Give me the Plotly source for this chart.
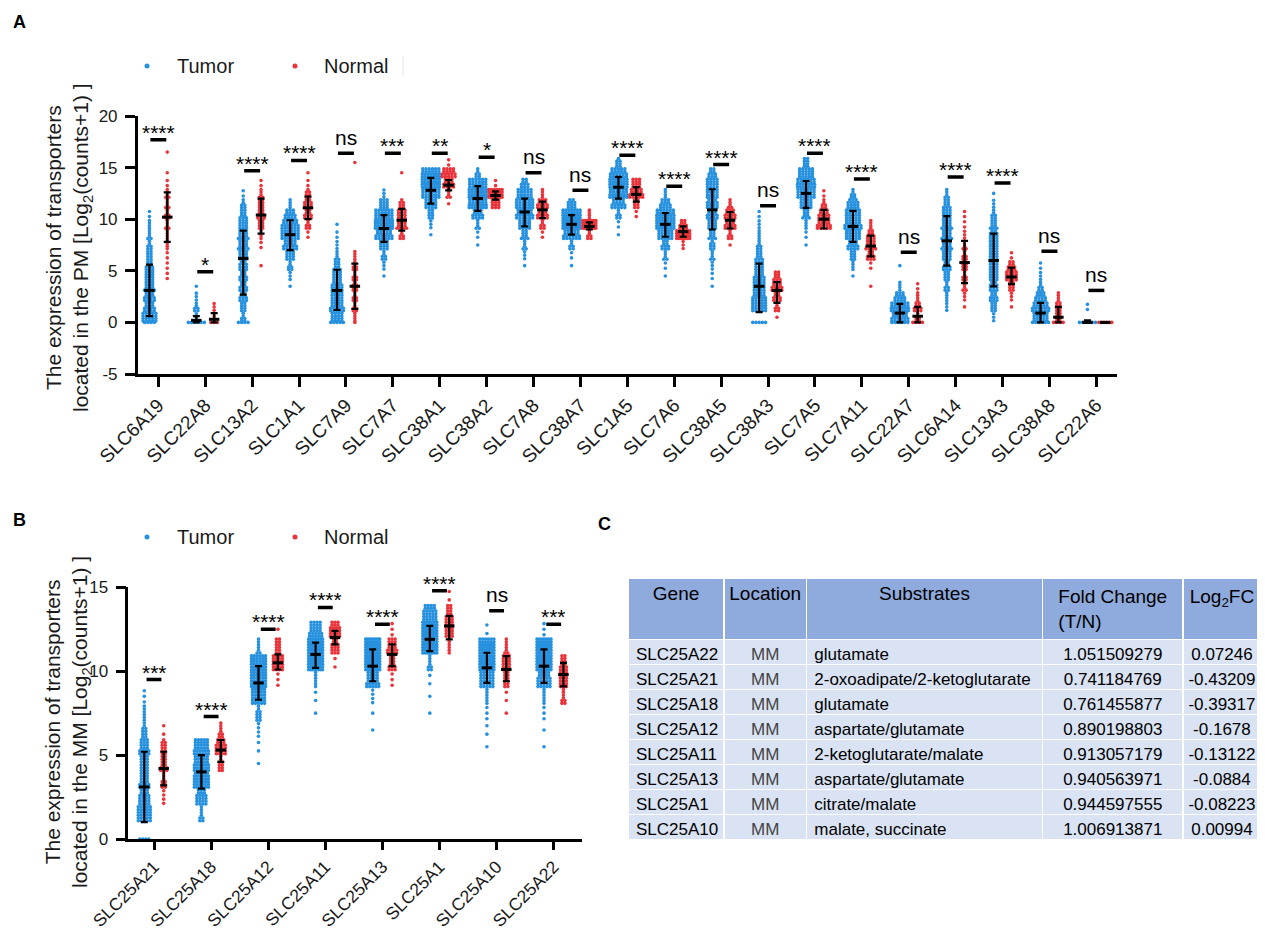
import plotly.graph_objects as go

FONT = "Arial, 'Liberation Sans', sans-serif"
BLUE = "#2691DE"
RED = "#E8343A"
W, H = 1265, 930          # design (screen) size
OFF = 8                   # page body margin added by the browser
FW, FH = W - OFF, H - OFF  # actual figure size


def X(px):
    return (px - OFF) / FW


def Y(py):
    return 1 - (py - OFF) / FH


# ---------------- Panel A data ----------------
genes_A = ["SLC6A19", "SLC22A8", "SLC13A2", "SLC1A1", "SLC7A9", "SLC7A7", "SLC38A1",
           "SLC38A2", "SLC7A8", "SLC38A7", "SLC1A5", "SLC7A6", "SLC38A5", "SLC38A3",
           "SLC7A5", "SLC7A11", "SLC22A7", "SLC6A14", "SLC13A3", "SLC38A8", "SLC22A6"]
sig_A = ["****", "*", "****", "****", "ns", "***", "**", "*", "ns", "ns", "****", "****",
         "****", "ns", "****", "****", "ns", "****", "****", "ns", "ns"]
sig_y_A = [17.7, 4.9, 14.7, 15.7, 16.4, 16.4, 16.4, 16.0, 14.5, 12.8, 16.2, 13.2,
           15.3, 11.3, 16.4, 13.9, 6.8, 14.1, 13.5, 6.9, 3.1]

t_q1_A = [0.6, 0.0, 2.7, 7.0, 1.2, 7.8, 11.5, 10.8, 9.3, 8.5, 12.0, 8.3, 9.0, 1.0, 11.1, 7.8, 0.0, 5.5, 3.5, 0.0, 0.0]
t_med_A = [3.1, 0.2, 6.2, 8.5, 3.1, 9.1, 12.8, 12.0, 10.7, 9.5, 13.1, 9.5, 10.9, 3.5, 12.5, 9.3, 0.9, 7.9, 6.0, 0.9, 0.0]
t_q3_A = [5.6, 0.6, 8.9, 9.9, 5.1, 10.4, 14.0, 13.2, 12.0, 10.4, 14.1, 10.6, 12.9, 5.7, 13.7, 10.8, 1.8, 10.3, 8.6, 1.9, 0.2]
n_q1_A = [7.8, 0.0, 8.6, 10.0, 1.3, 8.9, 12.8, 11.9, 10.1, 9.0, 11.7, 8.3, 9.1, 1.9, 9.1, 6.4, 0.0, 3.8, 3.7, 0.0, 0.0]
n_med_A = [10.2, 0.3, 10.4, 11.1, 3.5, 9.9, 13.3, 12.3, 10.9, 9.3, 12.4, 8.8, 9.9, 3.1, 10.0, 7.4, 0.6, 5.8, 4.4, 0.5, 0.0]
n_q3_A = [12.6, 0.9, 12.0, 12.2, 5.7, 11.0, 13.8, 12.7, 11.7, 9.7, 13.1, 9.3, 10.7, 3.9, 10.9, 8.4, 1.5, 7.9, 5.3, 1.5, 0.0]

# point counts per 1-unit bin (read from the dot clouds); *_zero = points exactly at 0
t_zero_A = [4, 6, 4, 0, 5, 0, 0, 0, 0, 0, 0, 0, 0, 5, 0, 0, 6, 0, 0, 6, 6]
t_start_A = [0, 0, 0, 3, 0, 4, 8, 7, 5, 5, 8, 4, 3, 1, 7, 4, 0, 1, 0, 0, 1]
t_hist_A = [
    [20, 14, 14, 13, 12, 10, 8, 6, 5, 4, 2],
    [3, 6, 3, 1],
    [6, 8, 10, 10, 10, 11, 12, 13, 13, 12, 9, 6, 2],
    [1, 3, 6, 12, 18, 24, 22, 14, 4],
    [16, 18, 16, 15, 12, 9, 5, 3, 2, 1],
    [1, 3, 6, 12, 22, 28, 24, 12, 3],
    [1, 3, 8, 16, 24, 30, 26],
    [1, 2, 5, 14, 26, 30, 24, 6],
    [1, 3, 5, 9, 16, 22, 24, 20, 10],
    [1, 2, 6, 22, 38, 30, 11],
    [1, 2, 6, 18, 26, 28, 22, 7],
    [1, 2, 5, 10, 20, 28, 26, 14, 4],
    [1, 2, 3, 5, 7, 9, 12, 14, 15, 16, 16, 10],
    [20, 18, 16, 14, 12, 9, 6, 4, 3, 2],
    [1, 2, 4, 9, 16, 24, 26, 20, 8],
    [1, 4, 8, 14, 20, 22, 20, 15, 6],
    [22, 26, 14, 4, 0, 1],
    [3, 4, 6, 8, 10, 12, 13, 13, 13, 12, 9, 5],
    [3, 8, 10, 11, 12, 12, 12, 12, 11, 9, 6, 3, 1],
    [20, 22, 14, 6, 3, 2],
    [2],
]
n_zero_A = [0, 3, 0, 0, 1, 0, 0, 0, 0, 0, 0, 0, 0, 0, 0, 0, 4, 0, 0, 4, 6]
n_start_A = [4, 0, 5, 8, 0, 8, 11, 11, 8, 8, 10, 7, 7, 0, 9, 3, 0, 1, 1, 0, 0]
n_hist_A = [
    [2, 2, 2, 4, 4, 5, 6, 5, 5, 2, 1, 0, 1],
    [4, 3],
    [1, 0, 2, 4, 8, 10, 8, 5, 2],
    [2, 6, 10, 11, 7, 2, 1],
    [4, 6, 6, 7, 6, 6, 4, 0, 0, 0, 0, 0, 0, 0, 0, 1],
    [6, 13, 12, 7, 0, 0, 1],
    [1, 5, 14, 18, 2],
    [12, 26, 2],
    [2, 6, 14, 14, 4],
    [6, 30, 4],
    [2, 8, 18, 12],
    [3, 27, 10],
    [1, 6, 14, 14, 5],
    [1, 6, 10, 14, 9],
    [18, 14, 6, 2],
    [1, 0, 2, 10, 13, 10, 4],
    [6, 10, 4, 2],
    [1, 3, 5, 6, 7, 6, 5, 3, 2, 2],
    [1, 3, 8, 16, 10, 2],
    [8, 8, 4],
    [],
]

# ---------------- Panel B data ----------------
genes_B = ["SLC25A21", "SLC25A18", "SLC25A12", "SLC25A11", "SLC25A13", "SLC25A1", "SLC25A10", "SLC25A22"]
sig_B = ["***", "****", "****", "****", "****", "****", "ns", "***"]
sig_y_B = [9.5, 7.3, 12.5, 13.8, 12.8, 14.8, 13.6, 12.8]
t_q1_B = [1.0, 3.0, 8.3, 10.2, 9.4, 11.2, 9.3, 9.3]
t_med_B = [3.1, 4.0, 9.3, 11.0, 10.3, 11.9, 10.2, 10.3]
t_q3_B = [5.2, 5.0, 10.3, 11.7, 11.3, 12.7, 11.1, 11.3]
n_q1_B = [3.2, 4.6, 10.1, 11.6, 10.3, 11.9, 9.4, 9.1]
n_med_B = [4.2, 5.3, 10.5, 12.0, 11.0, 12.7, 10.1, 9.8]
n_q3_B = [5.2, 5.9, 11.0, 12.4, 11.6, 13.3, 10.9, 10.5]
t_zero_B = [4, 0, 0, 0, 0, 0, 0, 0]
t_start_B = [1, 1, 4, 7, 6, 7, 5, 5]
t_hist_B = [
    [30, 22, 20, 18, 20, 10, 6, 3],
    [8, 22, 35, 33, 32],
    [1, 2, 4, 10, 30, 38, 38, 7],
    [1, 2, 6, 45, 50, 26],
    [1, 1, 4, 26, 48, 50],
    [1, 1, 2, 8, 40, 50, 28],
    [1, 2, 3, 6, 30, 46, 40, 2],
    [1, 1, 3, 6, 28, 44, 44, 3],
]
n_zero_B = [0, 0, 0, 0, 0, 0, 0, 0]
n_start_B = [2, 4, 9, 10, 9, 11, 7, 8]
n_hist_B = [
    [4, 9, 14, 11, 2],
    [10, 22, 8],
    [3, 24, 12, 1],
    [2, 16, 22],
    [3, 14, 20, 3],
    [6, 18, 14, 2],
    [1, 2, 12, 18, 7],
    [8, 18, 14],
]

# ---------------- Panel C table ----------------
tab_gene = ["SLC25A22", "SLC25A21", "SLC25A18", "SLC25A12", "SLC25A11", "SLC25A13", "SLC25A1", "SLC25A10"]
tab_loc = ["MM"] * 8
tab_sub = ["glutamate", "2-oxoadipate/2-ketoglutarate", "glutamate", "aspartate/glutamate",
           "2-ketoglutarate/malate", "aspartate/glutamate", "citrate/malate", "malate, succinate"]
tab_fc = ["1.051509279", "0.741184769", "0.761455877", "0.890198803",
          "0.913057179", "0.940563971", "0.944597555", "1.006913871"]
tab_l2 = ["0.07246", "-0.43209", "-0.39317", "-0.1678", "-0.13122", "-0.0884", "-0.08223", "0.00994"]
tab_head = ["Gene", "Location", "Substrates", "Fold Change<br>(T/N)", "Log<sub>2</sub>FC"]


def swarm(centers, zeros, starts, hists, rows_per_unit, dx, max_half):
    xs, ys = [], []
    for cx, z, s, h in zip(centers, zeros, starts, hists):
        def put_row(y, m):
            step = dx
            if m > 1 and (m - 1) / 2 * dx > max_half:
                step = 2 * max_half / (m - 1)
            for j in range(m):
                xs.append(cx + (j - (m - 1) / 2) * step)
                ys.append(y)
        if z:
            put_row(0.0, z)
        for b, c in enumerate(h):
            if c <= 0:
                continue
            nrows = min(rows_per_unit, c)
            base, rem = divmod(c, nrows)
            for k in range(nrows):
                put_row(s + b + (k + 0.5) / nrows, base + (1 if k < rem else 0))
    return xs, ys


def err_trace(x, med, q1, q3, xa, ya):
    return go.Scatter(
        x=x, y=med, mode="markers", xaxis=xa, yaxis=ya, showlegend=False, hoverinfo="skip",
        cliponaxis=False,
        marker=dict(symbol="line-ew", size=7.5, color="black", line=dict(color="black", width=3)),
        error_y=dict(type="data", symmetric=False,
                     array=[a - b for a, b in zip(q3, med)],
                     arrayminus=[b - a for a, b in zip(q1, med)],
                     color="black", thickness=2.2, width=3.5))


def sig_bar_trace(n, ys, half, xa, ya):
    xs, yy = [], []
    for i in range(n):
        xs += [i - half, i + half, None]
        yy += [ys[i], ys[i], None]
    return go.Scatter(x=xs, y=yy, mode="lines", xaxis=xa, yaxis=ya, showlegend=False,
                      hoverinfo="skip", cliponaxis=False, line=dict(color="black", width=3.5))


fig = go.Figure()

pxA = 46.9   # px per category, panel A
pxB = 57.1   # px per category, panel B
panels = [
    dict(genes=genes_A, off=0.19, dx=3.2 / pxA, rows=4, tmax=8.5 / pxA, nmax=6.5 / pxA,
         xa="x", ya="y", half=0.17,
         tz=t_zero_A, ts=t_start_A, th=t_hist_A, nz=n_zero_A, ns=n_start_A, nh=n_hist_A,
         tq=(t_q1_A, t_med_A, t_q3_A), nq=(n_q1_A, n_med_A, n_q3_A), sig=sig_A, sy=sig_y_A),
    dict(genes=genes_B, off=0.17, dx=3.0 / pxB, rows=6, tmax=7 / pxB, nmax=6 / pxB,
         xa="x2", ya="y2", half=0.13,
         tz=t_zero_B, ts=t_start_B, th=t_hist_B, nz=n_zero_B, ns=n_start_B, nh=n_hist_B,
         tq=(t_q1_B, t_med_B, t_q3_B), nq=(n_q1_B, n_med_B, n_q3_B), sig=sig_B, sy=sig_y_B),
]

annotations = []
for p in panels:
    n = len(p["genes"])
    tc = [i - p["off"] for i in range(n)]
    nc = [i + p["off"] for i in range(n)]
    tx, ty = swarm(tc, p["tz"], p["ts"], p["th"], p["rows"], p["dx"], p["tmax"])
    nx, ny = swarm(nc, p["nz"], p["ns"], p["nh"], p["rows"], p["dx"], p["nmax"])
    fig.add_trace(go.Scatter(x=tx, y=ty, mode="markers", xaxis=p["xa"], yaxis=p["ya"],
                             marker=dict(color=BLUE, size=3.6, line=dict(width=0)),
                             showlegend=False, hoverinfo="skip", cliponaxis=False))
    fig.add_trace(go.Scatter(x=nx, y=ny, mode="markers", xaxis=p["xa"], yaxis=p["ya"],
                             marker=dict(color=RED, size=3.6, line=dict(width=0)),
                             showlegend=False, hoverinfo="skip", cliponaxis=False))
    fig.add_trace(err_trace(tc, p["tq"][1], p["tq"][0], p["tq"][2], p["xa"], p["ya"]))
    fig.add_trace(err_trace(nc, p["nq"][1], p["nq"][0], p["nq"][2], p["xa"], p["ya"]))
    fig.add_trace(sig_bar_trace(n, p["sy"], p["half"], p["xa"], p["ya"]))
    for i, (s, y) in enumerate(zip(p["sig"], p["sy"])):
        annotations.append(dict(x=i, y=y, xref=p["xa"], yref=p["ya"], text=s, showarrow=False,
                                yanchor="bottom", yshift=-6 if "*" in s else 2.5,
                                font=dict(family=FONT, size=21, color="black")))

fig.add_trace(go.Table(
    domain=dict(x=[X(628), X(1262)], y=[0.02, Y(578)]),
    columnwidth=[96, 82, 236, 140, 78],
    header=dict(values=tab_head, fill_color="#8FAADC", line=dict(color="white", width=1.5),
                align="center", height=52, font=dict(family=FONT, size=19, color="black")),
    cells=dict(values=[tab_gene, tab_loc, tab_sub, tab_fc, tab_l2], fill_color="#DAE3F3",
               line=dict(color="white", width=1.5),
               align=["left", "center", "left", "center", "center"], height=25,
               font=dict(family=FONT, size=17, color=["black", "#444444", "black", "black", "black"])),
))

axis_common = dict(showline=True, linecolor="black", linewidth=2.5, ticks="outside",
                   tickwidth=2.5, tickcolor="black", showgrid=False,
                   zeroline=False, fixedrange=True, automargin=False)
yt_A = [-5, 0, 5, 10, 15, 20]
yt_B = [0, 5, 10, 15]

fig.update_layout(
    width=FW, height=FH, autosize=False, margin=dict(l=0, r=0, t=0, b=0, pad=0),
    paper_bgcolor="white", plot_bgcolor="white", font=dict(family=FONT, color="#1a1a1a"),
    xaxis=dict(domain=[X(137.7), X(1117)], range=[-0.44, 20.44], anchor="y", ticklen=10,
               tickvals=list(range(len(genes_A))), ticktext=genes_A, tickangle=-45,
               tickfont=dict(size=19, family=FONT, color="#1a1a1a"), **axis_common),
    yaxis=dict(domain=[Y(374), Y(116)], range=[-5, 20], anchor="x", ticklen=10,
               ticklabelstandoff=4,
               tickvals=yt_A, ticktext=[str(v) for v in yt_A],
               tickfont=dict(size=17, family=FONT, color="#1a1a1a"), **axis_common),
    xaxis2=dict(domain=[X(128.3), X(581.7)], range=[-0.45, 7.49], anchor="y2", ticklen=8,
                tickvals=list(range(len(genes_B))), ticktext=genes_B, tickangle=-45,
                tickfont=dict(size=17.5, family=FONT, color="#1a1a1a"), **axis_common),
    yaxis2=dict(domain=[Y(839), Y(587.3)], range=[0, 15], anchor="x2", ticklen=10,
                ticklabelstandoff=4,
                tickvals=yt_B, ticktext=[str(v) for v in yt_B],
                tickfont=dict(size=17, family=FONT, color="#1a1a1a"), **axis_common),
)

# axis titles
annotations.append(dict(x=X(69), y=Y(248), xref="paper", yref="paper", showarrow=False,
                        textangle=-90, xanchor="center", yanchor="middle",
                        text="The expression of transporters<br>located in the PM [Log<sub>2</sub>(counts+1) ]",
                        font=dict(family=FONT, size=21, color="#1a1a1a")))
annotations.append(dict(x=X(68), y=Y(722), xref="paper", yref="paper", showarrow=False,
                        textangle=-90, xanchor="center", yanchor="middle",
                        text="The expression of transporters<br>located in the MM [Log<sub>2</sub>(counts+1) ]",
                        font=dict(family=FONT, size=21, color="#1a1a1a")))
# panel letters
for lab, lx, ly in [("A", 11, 22), ("B", 11, 520), ("C", 596, 524)]:
    annotations.append(dict(x=X(lx), y=Y(ly), xref="paper", yref="paper", showarrow=False,
                            xanchor="left", yanchor="middle", text="<b>%s</b>" % lab,
                            font=dict(family=FONT, size=18, color="black")))

# legends
shapes = []
for ly in (66, 537):
    for cx, tx, col, name in [(147, 175, BLUE, "Tumor"), (295, 322, RED, "Normal")]:
        shapes.append(dict(type="circle", xref="paper", yref="paper", xsizemode="pixel",
                           ysizemode="pixel", xanchor=X(cx), yanchor=Y(ly),
                           x0=-2.5, x1=2.5, y0=-2.5, y1=2.5, fillcolor=col, line=dict(width=0)))
        annotations.append(dict(x=X(tx), y=Y(ly), xref="paper", yref="paper",
                                showarrow=False, xanchor="left", yanchor="middle", text=name,
                                font=dict(family=FONT, size=20, color="#1a1a1a")))
shapes.append(dict(type="line", xref="paper", yref="paper", x0=X(403), x1=X(403),
                   y0=Y(76), y1=Y(56), line=dict(color="#e6e6e6", width=1)))

fig.update_layout(annotations=annotations, shapes=shapes)
fig.write_html("out.html")
